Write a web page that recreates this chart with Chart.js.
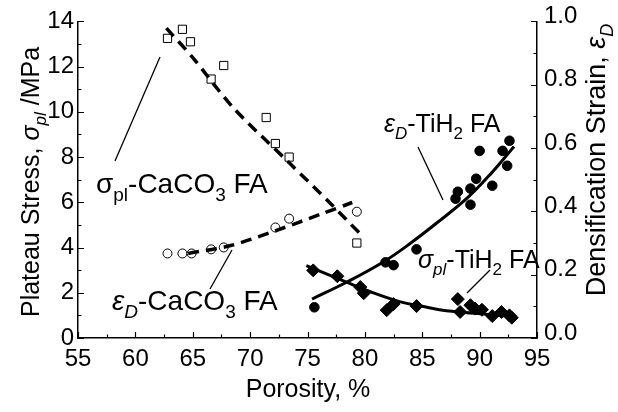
<!DOCTYPE html>
<html><head><meta charset="utf-8">
<script src="https://cdn.jsdelivr.net/npm/chart.js@4/dist/chart.umd.min.js"></script>
<style>html,body{margin:0;padding:0;background:#fff}#wrap{width:618px;height:412px;position:relative}</style>
</head><body><div id="wrap"><canvas id="c" width="618" height="412"></canvas></div>
<script>
// ---- data ----
const sqX = [62.8, 64.1, 64.8, 66.6, 67.7, 71.4, 72.2, 73.4, 79.3];          // sigma_pl CaCO3 FA (MPa)
const sqY = [13.25, 13.65, 13.1, 11.45, 12.05, 9.75, 8.6, 8.0, 4.2];
const ocX = [62.8, 64.1, 64.9, 66.6, 67.7, 72.2, 73.4, 79.3];               // eps_D CaCO3 FA
const ocY = [0.267, 0.267, 0.267, 0.28, 0.286, 0.349, 0.377, 0.399];
const fcX = [75.6, 81.8, 82.5, 84.5, 87.9, 88.1, 89.2, 89.2, 89.7, 90.0, 91.1, 92.0, 92.4, 92.6]; // eps_D TiH2 FA
const fcY = [0.097, 0.239, 0.230, 0.280, 0.440, 0.462, 0.472, 0.421, 0.503, 0.591, 0.481, 0.591, 0.544, 0.623];
const dmX = [75.5, 77.6, 79.6, 79.9, 81.9, 82.5, 84.5, 88.1, 88.3, 89.2, 89.6, 90.2, 91.1, 91.9, 92.6, 92.8]; // sigma_pl TiH2 FA
const dmY = [2.99, 2.73, 2.25, 1.98, 1.23, 1.50, 1.41, 1.72, 1.15, 1.45, 1.30, 1.25, 0.97, 1.15, 1.00, 0.90];
// fitted trend lines
const fitSqX = [62.7, 65.0, 68.5, 73.5, 77.0, 79.8];
const fitSqY = [13.7, 12.4, 10.2, 7.7, 5.95, 4.5];
const fitOcX = [64.6, 68.3, 72.3, 76.3, 78.9];
const fitOcY = [0.267, 0.292, 0.34, 0.393, 0.428];
const fitFcX = [75.4, 78.4, 81.6, 84.0, 86.5, 89.0, 91.0, 93.0];
const fitFcY = [0.123, 0.176, 0.24, 0.30, 0.37, 0.445, 0.52, 0.605];
const fitDmX = [74.9, 78.4, 80.2, 83.1, 85.0, 86.5, 88.3, 90.5, 92.9];
const fitDmY = [3.2, 2.47, 2.1, 1.6, 1.4, 1.25, 1.15, 1.05, 0.95];
// axes
const xTicks = [55, 60, 65, 70, 75, 80, 85, 90, 95];
const yTicks = [0, 2, 4, 6, 8, 10, 12, 14];
const y2Ticks = [0.0, 0.2, 0.4, 0.6, 0.8, 1.0];

const pts = (xs, ys) => xs.map((x, i) => ({x, y: ys[i]}));
const FONT = "'Liberation Sans', Arial, sans-serif";

const ticksPlugin = {
  id: 'inTicks',
  afterDraw(chart) {
    const ctx = chart.ctx, a = chart.chartArea;
    const sx = chart.scales.x, sy = chart.scales.y, s2 = chart.scales.y2;
    ctx.save();
    ctx.strokeStyle = '#000'; ctx.lineWidth = 1.2;
    ctx.beginPath();
    for (let v = 55; v <= 95.001; v += 2.5) {
      const p = Math.round(sx.getPixelForValue(v)) + 0.5;
      const L = (Math.abs(v / 5 - Math.round(v / 5)) < 1e-6) ? 6 : 3.5;
      ctx.moveTo(p, a.bottom); ctx.lineTo(p, a.bottom - L);
    }
    for (let v = 0; v <= 14.001; v += 1) {
      const p = Math.round(sy.getPixelForValue(v)) + 0.5;
      const L = (v % 2 === 0) ? 6 : 3.5;
      ctx.moveTo(a.left, p); ctx.lineTo(a.left + L, p);
    }
    for (let k = 0; k <= 10; k++) {
      const p = Math.round(s2.getPixelForValue(k / 10)) + 0.5;
      const L = (k % 2 === 0) ? 6 : 3.5;
      ctx.moveTo(a.right, p); ctx.lineTo(a.right - L, p);
    }
    ctx.stroke();
    ctx.restore();
  }
};

// rich text helper: parts = {t, i: italic, s: subscript}
function rich(ctx, x, y, parts, size) {
  let cx = x;
  for (const p of parts) {
    const fs = p.s ? Math.round(size * 0.68) : size;
    ctx.font = (p.i ? 'italic ' : '') + fs + 'px ' + FONT;
    ctx.fillText(p.t, cx, y + (p.s ? size * 0.28 : 0));
    cx += ctx.measureText(p.t).width;
  }
  return cx - x;
}
function richWidth(ctx, parts, size) {
  let w = 0;
  for (const p of parts) {
    const fs = p.s ? Math.round(size * 0.68) : size;
    ctx.font = (p.i ? 'italic ' : '') + fs + 'px ' + FONT;
    w += ctx.measureText(p.t).width;
  }
  return w;
}

const textPlugin = {
  id: 'texts',
  afterDraw(chart) {
    const ctx = chart.ctx;
    ctx.save();
    ctx.fillStyle = '#000'; ctx.textBaseline = 'alphabetic'; ctx.textAlign = 'left';
    // axis titles
    const T = 25;
    let parts = [{t: 'Porosity, %'}];
    let w = richWidth(ctx, parts, T);
    rich(ctx, 308 - w / 2, 397, parts, T);
    parts = [{t: 'Plateau Stress, '}, {t: 'σ', i: 1}, {t: 'pl', i: 1, s: 1}, {t: ' /MPa'}];
    w = richWidth(ctx, parts, T);
    ctx.save(); ctx.translate(39, 182); ctx.rotate(-Math.PI / 2);
    rich(ctx, -w / 2, 0, parts, T); ctx.restore();
    parts = [{t: 'Densification Strain, '}, {t: 'ε', i: 1}, {t: 'D', i: 1, s: 1}];
    w = richWidth(ctx, parts, 27);
    ctx.save(); ctx.translate(605, 160); ctx.rotate(-Math.PI / 2);
    rich(ctx, -w / 2, 0, parts, 27); ctx.restore();

    // annotations
    rich(ctx, 96, 193, [{t: 'σ'}, {t: 'pl', s: 1}, {t: '-CaCO'}, {t: '3', s: 1}, {t: ' FA'}], 28);
    rich(ctx, 112, 310, [{t: 'ε', i: 1}, {t: 'D', i: 1, s: 1}, {t: '-CaCO'}, {t: '3', s: 1}, {t: ' FA'}], 28);
    rich(ctx, 384, 132, [{t: 'ε', i: 1}, {t: 'D', i: 1, s: 1}, {t: '-TiH'}, {t: '2', s: 1}, {t: ' FA'}], 25);
    rich(ctx, 418, 268, [{t: 'σ', i: 1}, {t: 'pl', i: 1, s: 1}, {t: '-TiH'}, {t: '2', s: 1}, {t: ' FA'}], 25);
    // leader lines
    ctx.strokeStyle = '#000'; ctx.lineWidth = 1.3;
    ctx.beginPath();
    ctx.moveTo(160, 57); ctx.lineTo(115, 161);
    ctx.moveTo(232, 250); ctx.lineTo(210, 289);
    ctx.moveTo(418, 147); ctx.lineTo(443, 200);
    ctx.moveTo(467, 293); ctx.lineTo(490, 270);
    ctx.stroke();
    ctx.restore();
  }
};

const tickFont = {family: FONT, size: 24};
new Chart(document.getElementById('c'), {
  type: 'scatter',
  data: {
    datasets: [
      {data: pts(fitSqX, fitSqY), yAxisID: 'y', showLine: true, borderColor: '#000', borderWidth: 3.5, borderDash: [11, 7], pointRadius: 0, tension: 0.3, fill: false},
      {data: pts(fitOcX, fitOcY), yAxisID: 'y2', showLine: true, borderColor: '#000', borderWidth: 3.5, borderDash: [11, 7], pointRadius: 0, tension: 0.3, fill: false},
      {data: pts(fitFcX, fitFcY), yAxisID: 'y2', showLine: true, borderColor: '#000', borderWidth: 3, pointRadius: 0, tension: 0.4, fill: false},
      {data: pts(fitDmX, fitDmY), yAxisID: 'y', showLine: true, borderColor: '#000', borderWidth: 3, pointRadius: 0, tension: 0.4, fill: false},
      {data: pts(sqX, sqY), yAxisID: 'y', pointStyle: 'rect', pointRadius: 5.8, borderWidth: 1, borderColor: '#000', backgroundColor: '#fff'},
      {data: pts(ocX, ocY), yAxisID: 'y2', pointStyle: 'circle', pointRadius: 4.5, borderWidth: 1, borderColor: '#000', backgroundColor: '#fff'},
      {data: pts(fcX, fcY), yAxisID: 'y2', pointStyle: 'circle', pointRadius: 4.8, borderWidth: 1, borderColor: '#000', backgroundColor: '#000'},
      {data: pts(dmX, dmY), yAxisID: 'y', pointStyle: 'rectRot', pointRadius: 6.5, borderWidth: 1, borderColor: '#000', backgroundColor: '#000'}
    ]
  },
  options: {
    responsive: false, animation: false, devicePixelRatio: 1,
    layout: {padding: {top: 20, left: 0, right: 0, bottom: 0}},
    plugins: {legend: {display: false}, tooltip: {enabled: false}},
    scales: {
      x: {type: 'linear', position: 'bottom', min: 55, max: 95,
          afterFit: s => { s.height = 74; },
          afterBuildTicks: s => { s.ticks = xTicks.map(v => ({value: v})); },
          grid: {display: false, drawTicks: false},
          border: {display: true, color: '#000', width: 1.5},
          ticks: {color: '#000', font: tickFont, padding: 7, maxRotation: 0, autoSkip: false}},
      y: {type: 'linear', position: 'left', min: 0, max: 14,
          afterFit: s => { s.width = 78; },
          afterBuildTicks: s => { s.ticks = yTicks.map(v => ({value: v})); },
          grid: {display: false, drawTicks: false},
          border: {display: true, color: '#000', width: 1.5},
          ticks: {color: '#000', font: tickFont, padding: 4}},
      y2: {type: 'linear', position: 'right', min: 0, max: 1,
          afterFit: s => { s.width = 81; },
          afterBuildTicks: s => { s.ticks = y2Ticks.map(v => ({value: v})); },
          grid: {display: false, drawTicks: false},
          border: {display: true, color: '#000', width: 1.5},
          ticks: {color: '#000', font: tickFont, padding: 7, labelOffset: -5, callback: v => Number(v).toFixed(1)}}
    }
  },
  plugins: [ticksPlugin, textPlugin]
});
</script>
</body></html>
